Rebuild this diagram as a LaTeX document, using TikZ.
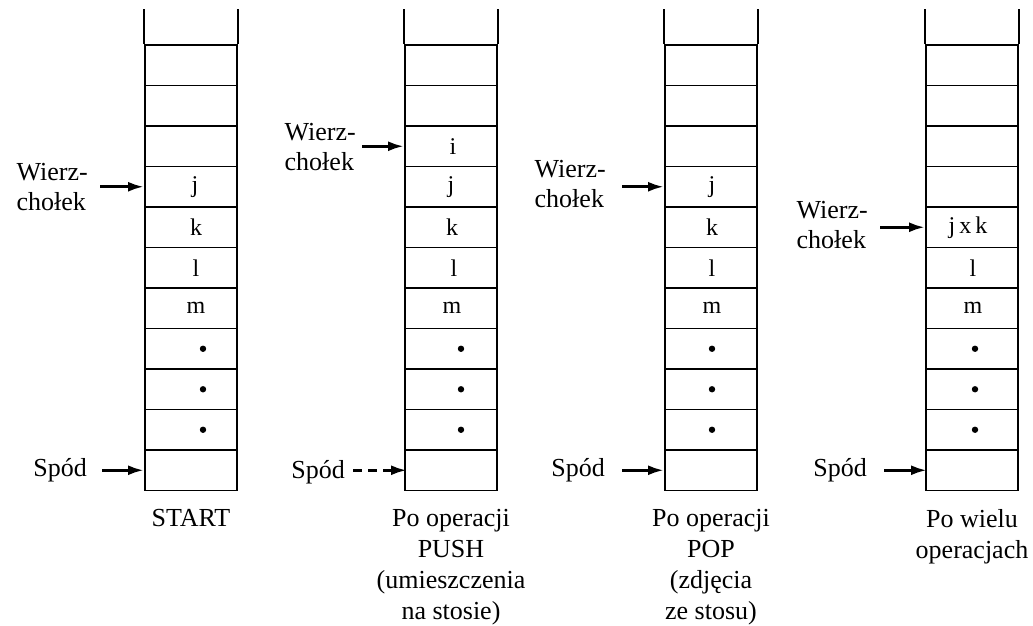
\documentclass[tikz,border=0pt]{standalone}
\usepackage{fontspec}
\setmainfont{Liberation Serif}
\usetikzlibrary{arrows.meta}
\begin{document}
\begin{tikzpicture}[x=1pt,y=-1pt,
  cell/.style={draw, line width=1.9pt, minimum width=92pt, minimum height=40.5pt,
    inner sep=0pt, font=\fontsize{24}{26}\selectfont},
  wall/.style={line width=1.9pt},
  lbl/.style={inner sep=0pt, align=left, font=\fontsize{26}{30}\selectfont},
  captext/.style={inner sep=0pt, align=center, anchor=north, font=\fontsize{26}{31}\selectfont},
  ptr/.style={line width=3pt, -{Latex[length=16pt,width=10pt]}},
  dotmark/.style={fill=black}
]
\useasboundingbox (0,0) rectangle (1033,625);

% four stacks of eleven cells, open at the top
\foreach \s/\xl in {1/145,2/405,3/665,4/926}{
  \foreach \i in {1,...,11}{
    \node[cell] (s\s-\i) at (\xl+46, 24.75+40.5*\i) {};
  }
  \draw[wall] (s\s-1.north west) -- +(0,-35);
  \draw[wall] (s\s-1.north east) -- +(0,-35);
}

% cell contents
\node[cell, draw=none] (v1-4) at ([xshift=4pt]s1-4) {j};
\node[cell, draw=none] (v1-5) at ([xshift=5pt]s1-5) {k};
\node[cell, draw=none] (v1-6) at ([xshift=5pt]s1-6) {l};
\node[cell, draw=none] (v1-7) at ([xshift=5pt]s1-7) {m};

\node[cell, draw=none] (v2-3) at ([xshift=2pt]s2-3) {i};
\node[cell, draw=none] (v2-4) at (s2-4) {j};
\node[cell, draw=none] (v2-5) at ([xshift=1pt]s2-5) {k};
\node[cell, draw=none] (v2-6) at ([xshift=3pt]s2-6) {l};
\node[cell, draw=none] (v2-7) at ([xshift=1pt]s2-7) {m};

\node[cell, draw=none] (v3-4) at ([xshift=1pt]s3-4) {j};
\node[cell, draw=none] (v3-5) at ([xshift=1pt]s3-5) {k};
\node[cell, draw=none] (v3-6) at ([xshift=1pt]s3-6) {l};
\node[cell, draw=none] (v3-7) at ([xshift=1pt]s3-7) {m};

\node[cell, draw=none] (v4-5) at ([xshift=-4pt]s4-5) {j\,x\,k};
\node[cell, draw=none] (v4-6) at ([xshift=1pt]s4-6) {l};
\node[cell, draw=none] (v4-7) at ([xshift=1pt]s4-7) {m};

% the dots standing for further elements
\foreach \s/\dx in {1/12,2/10,3/1,4/3}{
  \foreach \i in {8,9,10}{
    \fill[dotmark] ([xshift=\dx pt]s\s-\i.center) circle (3.2pt);
  }
}

% top-of-stack pointers
\node[lbl, anchor=east] (t1) at (88,187) {Wierz-\\chołek};
\node[lbl, anchor=east] (t2) at (356,147) {Wierz-\\chołek};
\node[lbl, anchor=east] (t3) at (606,184) {Wierz-\\chołek};
\node[lbl, anchor=east] (t4) at (868,225) {Wierz-\\chołek};
\draw[ptr, shorten <=12pt] (t1.east |- s1-4.west) -- (s1-4.west);
\draw[ptr, shorten <=6pt] (t2.east |- s2-3.west) -- (s2-3.west);
\draw[ptr, shorten <=16pt] (t3.east |- s3-4.west) -- (s3-4.west);
\draw[ptr, shorten <=12pt] (t4.east |- s4-5.west) -- (s4-5.west);

% bottom-of-stack pointers
\node[lbl, anchor=east] (b1) at (87,470) {Spód};
\node[lbl, anchor=east] (b2) at (345,472) {Spód};
\node[lbl, anchor=east] (b3) at (605,470) {Spód};
\node[lbl, anchor=east] (b4) at (867,470) {Spód};
\draw[ptr, shorten <=15pt] (b1.east |- s1-11.west) -- (s1-11.west);
\draw[ptr, shorten <=8pt, dash pattern=on 9pt off 6pt] (b2.east |- s2-11.west) -- ([xshift=3pt]s2-11.west);
\draw[ptr, shorten <=17pt] (b3.east |- s3-11.west) -- (s3-11.west);
\draw[ptr, shorten <=17pt] (b4.east |- s4-11.west) -- ([xshift=2pt]s4-11.west);

% captions
\node[captext] (c1) at ([yshift=-18pt]s1-11.south) {START};
\node[captext] (c2) at ([yshift=-18pt]s2-11.south) {Po operacji\\PUSH\\(umieszczenia\\na stosie)};
\node[captext] (c3) at ([yshift=-18pt]s3-11.south) {Po operacji\\POP\\(zdjęcia\\ze stosu)};
\node[captext] (c4) at ([yshift=-18pt]s4-11.south) {Po wielu\\operacjach};
\end{tikzpicture}
\end{document}
